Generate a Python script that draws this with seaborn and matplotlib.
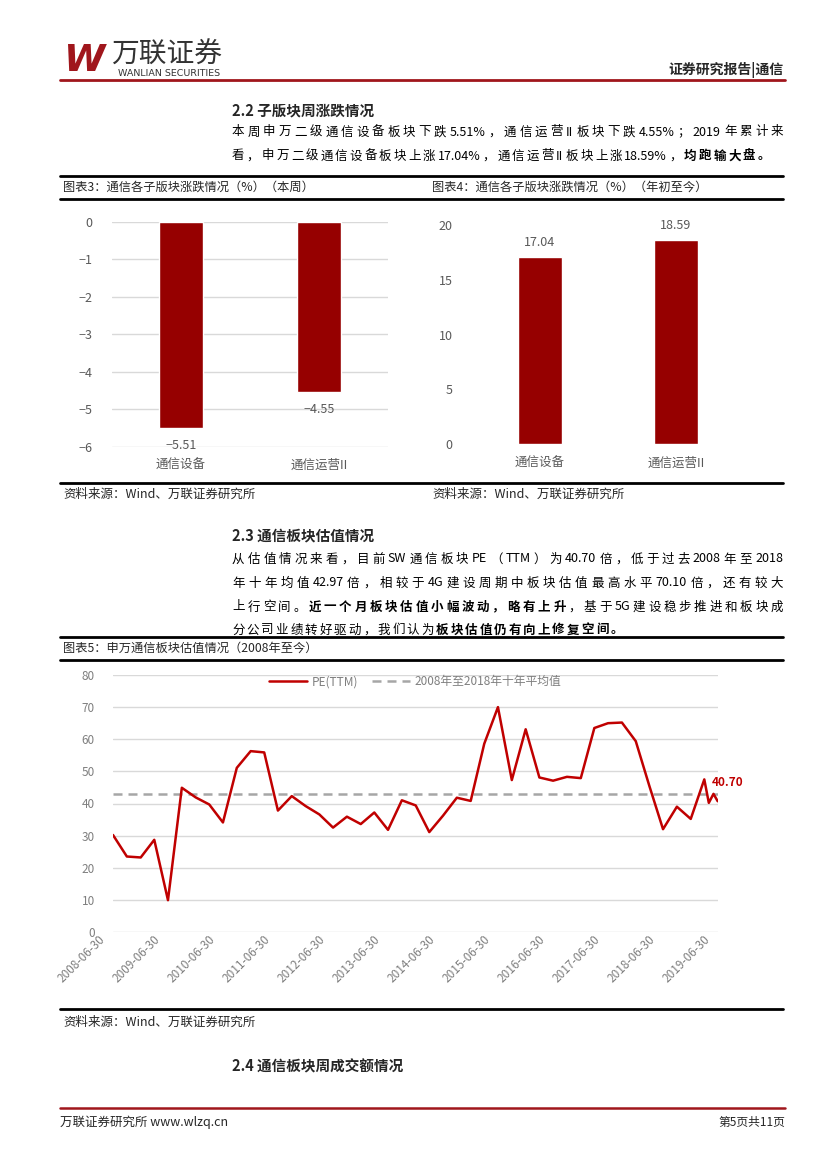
import matplotlib
matplotlib.use("Agg")
import matplotlib.pyplot as plt
import matplotlib.transforms as mtrans
from matplotlib.lines import Line2D
import seaborn as sns
import pandas as pd

# 数据
sub_sectors = ['通信设备', '通信运营II']
week_change = [-5.51, -4.55]
ytd_change = [17.04, 18.59]

quarter_dates = [f"{y}-{md}" for y in range(2008, 2020)
                 for md in ("03-31", "06-30", "09-30", "12-31")][1:45]
recent_dates = ["2019-04-30", "2019-05-31", "2019-06-28"]
pe_dates = quarter_dates + recent_dates
pe_values = [30.2, 23.5, 23.2,
             28.7, 9.9, 44.9, 41.9,
             39.7, 34.1, 51.1, 56.3,
             55.9, 37.8, 42.3, 39.2,
             36.6, 32.5, 35.9, 33.6,
             37.2, 31.8, 41.0, 39.4,
             31.1, 36.2, 41.8, 40.8,
             58.6, 70.0, 47.3, 63.1,
             48.1, 47.1, 48.3, 47.9,
             63.5, 65.0, 65.2, 59.4,
             45.5, 32.0, 39.0, 35.2,
             47.5, 40.2, 43.0, 40.7]
pe_mean = 42.97

# 设置绘图风格
sns.set_theme(style="white")
plt.rcParams['font.family'] = ['Noto Sans CJK SC', 'DejaVu Sans']
plt.rcParams['axes.unicode_minus'] = True

W, H = 827, 1169
fig = plt.figure(figsize=(W / 100, H / 100), dpi=100)
fig.patch.set_facecolor('white')
renderer = fig.canvas.get_renderer()

RED = '#A0161C'
GREY = '#595959'
BAR_RED = '#960000'
LINE_RED = '#C00000'


def fx(x):
    return x / W


def fy(y):
    return 1 - y / H


def hline(y, x0, x1, color='black', lw=2.0):
    fig.add_artist(Line2D([fx(x0), fx(x1)], [fy(y), fy(y)], color=color, lw=lw,
                          transform=fig.transFigure))


def split_tokens(parts):
    toks = []
    for s, bold in parts:
        buf = ''
        for ch in s:
            if ord(ch) < 128 and ch != ' ':
                buf += ch
            else:
                if buf:
                    toks.append((buf, bold))
                    buf = ''
                if ch != ' ':
                    toks.append((ch, bold))
        if buf:
            toks.append((buf, bold))
    return toks


def para_line(x0, x1, y, parts, size=9, justify=True, color='black'):
    # 两端对齐：逐字放置
    toks = split_tokens(parts)
    texts = []
    widths = []
    for s, bold in toks:
        t = fig.text(0, 0, s, fontsize=size, fontweight='bold' if bold else 'normal',
                     va='center', ha='left', color=color)
        texts.append(t)
        widths.append(t.get_window_extent(renderer).width)
    gap = (x1 - x0 - sum(widths)) / (len(toks) - 1) if justify else 1.0
    x = x0
    for t, w in zip(texts, widths):
        t.set_position((fx(x), fy(y)))
        x += w + gap


# 页眉
fig.text(fx(64), fy(61), 'W', fontsize=27, fontweight='bold', fontstyle='italic',
         color=RED, va='center', ha='left', family='DejaVu Sans')
fig.text(fx(111), fy(55), '万联证券', fontsize=20, color='#333333', va='center', ha='left')
fig.text(fx(118), fy(73), 'WANLIAN SECURITIES', fontsize=6.8, color='#333333',
         va='center', ha='left', family='DejaVu Sans')
fig.text(fx(784), fy(70), '证券研究报告|通信', fontsize=10, fontweight='bold',
         va='center', ha='right')
hline(80, 60, 785, color=RED, lw=2.0)

# 2.2
fig.text(fx(232), fy(110), '2.2 子版块周涨跌情况', fontsize=10.5, fontweight='bold',
         va='center', ha='left')
para_line(232, 783, 132, [('本周申万二级通信设备板块下跌 5.51%，通信运营II板块下跌 4.55%；2019 年累计来', False)])
para_line(232, 770, 156, [('看，申万二级通信设备板块上涨 17.04%，通信运营II板块上涨 18.59%，', False),
                          ('均跑输大盘。', True)])

hline(176, 60, 783)
fig.text(fx(63), fy(187), '图表3：通信各子版块涨跌情况（%）（本周）', fontsize=8.8, va='center', ha='left')
fig.text(fx(432), fy(187), '图表4：通信各子版块涨跌情况（%）（年初至今）', fontsize=8.8, va='center', ha='left')
hline(199, 60, 783)

# 图表3
ax3 = fig.add_axes([fx(112), fy(446.7), fx(388) - fx(112), (446.7 - 222) / H])
df3 = pd.DataFrame({'板块': sub_sectors, '涨跌': week_change})
sns.barplot(data=df3, x='板块', y='涨跌', ax=ax3, color=BAR_RED, width=0.317,
            saturation=1, zorder=3)
ax3.set_ylim(-6, 0)
ax3.set_xlim(-0.5, 1.5)
ax3.set_yticks(range(-6, 1))
ax3.yaxis.grid(True, color='#D9D9D9', lw=1)
ax3.set_axisbelow(True)
for i, v in enumerate(week_change):
    ax3.annotate(f"{v:.2f}".replace('-', '\u2212'), xy=(i, v), xytext=(0, -17),
                 textcoords='offset pixels', ha='center', va='center', fontsize=9, color=GREY)

# 图表4
ax4 = fig.add_axes([fx(472), fy(444), fx(744) - fx(472), (444 - 225) / H])
df4 = pd.DataFrame({'板块': sub_sectors, '涨跌': ytd_change})
sns.barplot(data=df4, x='板块', y='涨跌', ax=ax4, color=BAR_RED, width=0.317,
            saturation=1, zorder=3)
ax4.set_ylim(0, 20)
ax4.set_xlim(-0.5, 1.5)
ax4.set_yticks(range(0, 21, 5))
for i, v in enumerate(ytd_change):
    ax4.annotate(f"{v:.2f}", xy=(i, v), xytext=(0, 15), textcoords='offset pixels',
                 ha='center', va='center', fontsize=9, color=GREY)

for ax in (ax3, ax4):
    sns.despine(ax=ax, left=True, bottom=True)
    ax.set_xlabel('')
    ax.set_ylabel('')
    ax.tick_params(axis='both', length=0, labelsize=9, labelcolor=GREY)
    ax.tick_params(axis='x', pad=9)
    ax.tick_params(axis='y', pad=14)
    ax.patch.set_alpha(0)

hline(483, 60, 783)
fig.text(fx(63), fy(494), '资料来源：Wind、万联证券研究所', fontsize=9, fontstyle='italic',
         va='center', ha='left')
fig.text(fx(432), fy(494), '资料来源：Wind、万联证券研究所', fontsize=9, fontstyle='italic',
         va='center', ha='left')

# 2.3
fig.text(fx(232), fy(535), '2.3 通信板块估值情况', fontsize=10.5, fontweight='bold',
         va='center', ha='left')
para_line(232, 783, 559, [('从估值情况来看，目前 SW 通信板块 PE（TTM）为 40.70 倍，低于过去 2008 年至 2018', False)])
para_line(232, 783, 583, [('年十年均值 42.97 倍，相较于 4G 建设周期中板块估值最高水平 70.10 倍，还有较大', False)])
para_line(232, 783, 607, [('上行空间。', False), ('近一个月板块估值小幅波动，略有上升', True),
                          ('，基于 5G 建设稳步推进和板块成', False)])
para_line(232, 623, 630, [('分公司业绩转好驱动，我们认为', False), ('板块估值仍有向上修复空间。', True)])

hline(637, 60, 783)
fig.text(fx(63), fy(648), '图表5：申万通信板块估值情况（2008年至今）', fontsize=8.8, va='center', ha='left')
hline(660, 60, 783)

# 图表5
ax5 = fig.add_axes([fx(113), fy(932), fx(718) - fx(113), (932 - 675) / H])
df5 = pd.DataFrame({'日期': pd.to_datetime(pe_dates), 'PE(TTM)': pe_values})
sns.lineplot(data=df5, x='日期', y='PE(TTM)', ax=ax5, color=LINE_RED, lw=1.8,
             label='PE(TTM)', zorder=4)
ax5.axhline(pe_mean, color='#A6A6A6', lw=1.8, dashes=(3.6, 2.4),
            label='2008年至2018年十年平均值', zorder=3)
ax5.set_xlim(df5['日期'].iloc[0], df5['日期'].iloc[-1])
ax5.set_ylim(0, 80)
ax5.set_yticks(range(0, 81, 10))
ax5.yaxis.grid(True, color='#D9D9D9', lw=1)
ax5.set_axisbelow(True)
tick_dates = pd.to_datetime([f"{y}-06-30" for y in range(2008, 2020)])
ax5.set_xticks(tick_dates)
ax5.set_xticklabels([d.strftime('%Y-%m-%d') for d in tick_dates])
ax5.set_xlabel('')
ax5.set_ylabel('')
sns.despine(ax=ax5, left=True, bottom=True)
ax5.tick_params(axis='both', length=0, labelsize=8.5, labelcolor='#7F7F7F')
ax5.tick_params(axis='y', pad=13)
ax5.tick_params(axis='x', pad=4)
offset = mtrans.ScaledTranslation(-10 / 100, 0, fig.dpi_scale_trans)
for lab in ax5.get_xticklabels():
    lab.set_rotation(45)
    lab.set_ha('right')
    lab.set_va('center')
    lab.set_rotation_mode('anchor')
    lab.set_transform(lab.get_transform() + offset)
ax5.annotate(f"{pe_values[-1]:.2f}", xy=(df5['日期'].iloc[-1], pe_values[-1]),
             xytext=(-6, 19), textcoords='offset pixels', ha='left', va='center',
             fontsize=8.5, fontweight='bold', color=LINE_RED)
ax5.legend(loc='upper center', bbox_to_anchor=(0.5, 1.04), ncol=2, frameon=False,
           fontsize=8.5, labelcolor='#7F7F7F', handlelength=3.2, columnspacing=1.2,
           handletextpad=0.4)
ax5.patch.set_alpha(0)

hline(1009, 60, 783)
fig.text(fx(63), fy(1022), '资料来源：Wind、万联证券研究所', fontsize=9, fontstyle='italic',
         va='center', ha='left')

# 2.4
fig.text(fx(232), fy(1066), '2.4 通信板块周成交额情况', fontsize=10.5, fontweight='bold',
         va='center', ha='left')

# 页脚
hline(1108, 60, 785, color=RED, lw=1.8)
fig.text(fx(60), fy(1122), '万联证券研究所 www.wlzq.cn', fontsize=9, va='center', ha='left')
fig.text(fx(785), fy(1122), '第5页共11页', fontsize=8.5, va='center', ha='right')

plt.savefig('out.png', dpi=100)
